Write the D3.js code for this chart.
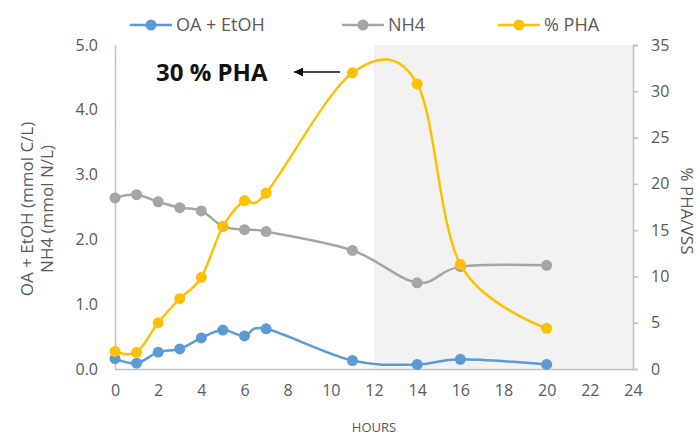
<!DOCTYPE html>
<html>
<head>
<meta charset="utf-8">
<script src="https://cdn.jsdelivr.net/npm/d3@7"></script>
<style>
  body { margin: 0; background: #fff; }
  svg { font-family: "Open Sans", sans-serif; }
</style>
</head>
<body>
<div id="chart"></div>
<script>
// DATA
const hours = [0, 1, 2, 3, 4, 5, 6, 7, 11, 14, 16, 20];
const oaEtoh = [0.16, 0.09, 0.26, 0.31, 0.48, 0.60, 0.51, 0.62, 0.13, 0.07, 0.15, 0.07];
const nh4 = [2.64, 2.69, 2.58, 2.49, 2.44, 2.20, 2.15, 2.12, 1.83, 1.33, 1.58, 1.60];
const pha = [1.9, 1.8, 5.0, 7.6, 9.9, 15.4, 18.2, 19.0, 32.0, 30.8, 11.3, 4.4];
const xTicks = [0, 2, 4, 6, 8, 10, 12, 14, 16, 18, 20, 22, 24];
const leftTicks = [0, 1, 2, 3, 4, 5];
const rightTicks = [0, 5, 10, 15, 20, 25, 30, 35];
const shadeFrom = 12;

const width = 700, height = 437;
const margin = {top: 45, right: 67, bottom: 68, left: 115};

const svg = d3.select("#chart").append("svg")
    .attr("width", width)
    .attr("height", height);

const x = d3.scaleLinear().domain([0, 24]).range([margin.left, width - margin.right]);
const yL = d3.scaleLinear().domain([0, 5]).range([height - margin.bottom, margin.top]);
const yR = d3.scaleLinear().domain([0, 35]).range([height - margin.bottom, margin.top]);

const axisColor = "#bfbfbf";
const textColor = "#595959";

// grey background for the second phase
svg.append("rect")
    .attr("x", x(shadeFrom))
    .attr("y", yL(5))
    .attr("width", x(24) - x(shadeFrom))
    .attr("height", yL(0) - yL(5))
    .attr("fill", "#f2f2f2");

// axes
const gx = svg.append("g")
    .attr("transform", `translate(0,${yL(0)})`)
    .call(d3.axisBottom(x).tickValues(xTicks).tickSize(0).tickPadding(16));
const gl = svg.append("g")
    .attr("transform", `translate(${x(0)},0)`)
    .call(d3.axisLeft(yL).tickValues(leftTicks).tickFormat(d3.format(".1f")).tickSize(0).tickPadding(17));
const gr = svg.append("g")
    .attr("transform", `translate(${x(24)},0)`)
    .call(d3.axisRight(yR).tickValues(rightTicks).tickSize(5).tickPadding(13));

[gx, gl, gr].forEach(g => {
    g.select(".domain").attr("stroke", axisColor).attr("stroke-width", 1.5);
    g.selectAll(".tick line").attr("stroke", axisColor).attr("stroke-width", 1.5);
    g.selectAll(".tick text")
        .attr("fill", textColor)
        .style("font-size", "16px")
        .style("font-family", "'Open Sans', sans-serif");
});

// series
const series = [
    {name: "OA + EtOH", values: oaEtoh, y: yL, color: "#5b9bd5"},
    {name: "NH4", values: nh4, y: yL, color: "#a5a5a5"},
    {name: "% PHA", values: pha, y: yR, color: "#ffc000"}
];

series.forEach(s => {
    const pts = hours.map((h, i) => [x(h), s.y(s.values[i])]);
    svg.append("path")
        .attr("d", d3.line().curve(d3.curveCardinal.tension(0))(pts))
        .attr("fill", "none")
        .attr("stroke", s.color)
        .attr("stroke-width", 2.5);
    svg.append("g").selectAll("circle")
        .data(pts)
        .join("circle")
        .attr("cx", d => d[0])
        .attr("cy", d => d[1])
        .attr("r", 5.5)
        .attr("fill", s.color);
});

// legend
const legendX = [130, 342, 498];
series.forEach((s, i) => {
    const g = svg.append("g").attr("transform", `translate(${legendX[i]},25)`);
    g.append("line").attr("x1", 0).attr("x2", 42)
        .attr("stroke", s.color).attr("stroke-width", 2.5);
    g.append("circle").attr("cx", 21).attr("r", 5.5).attr("fill", s.color);
    g.append("text").attr("x", 46).attr("dy", "0.35em")
        .attr("fill", textColor).style("font-size", "18px")
        .text(s.name);
});

// axis titles
const leftTitle = svg.append("text")
    .attr("transform", `translate(27,${(yL(0) + yL(5)) / 2 + 2}) rotate(-90)`)
    .attr("text-anchor", "middle")
    .attr("fill", textColor)
    .style("font-size", "17px");
leftTitle.append("tspan").attr("x", 0).attr("dy", "0.35em").text("OA + EtOH (mmol C/L)");
leftTitle.append("tspan").attr("x", 0).attr("dy", "1.2em").text("NH4 (mmol N/L)");

svg.append("text")
    .attr("transform", `translate(687,${(yR(0) + yR(35)) / 2 + 4}) rotate(90)`)
    .attr("text-anchor", "middle")
    .attr("dy", "0.35em")
    .attr("fill", textColor)
    .style("font-size", "17px")
    .text("% PHA/VSS");

svg.append("text")
    .attr("x", (x(0) + x(24)) / 2)
    .attr("y", 427)
    .attr("text-anchor", "middle")
    .attr("dy", "0.35em")
    .attr("fill", textColor)
    .style("font-size", "13px")
    .text("HOURS");

// annotation
svg.append("text")
    .attr("x", 156)
    .attr("y", 73)
    .attr("dy", "0.35em")
    .attr("fill", "#111")
    .style("font-size", "24px")
    .style("font-weight", "bold")
    .text("30 % PHA");

svg.append("defs").append("marker")
    .attr("id", "arrow")
    .attr("viewBox", "0 0 10 10")
    .attr("refX", 10).attr("refY", 5)
    .attr("markerWidth", 6).attr("markerHeight", 6)
    .attr("orient", "auto")
    .append("path").attr("d", "M0,0L10,5L0,10z").attr("fill", "#111");

svg.append("line")
    .attr("x1", 340).attr("y1", 72)
    .attr("x2", 294).attr("y2", 72)
    .attr("stroke", "#111")
    .attr("stroke-width", 1.5)
    .attr("marker-end", "url(#arrow)");
</script>
</body>
</html>
